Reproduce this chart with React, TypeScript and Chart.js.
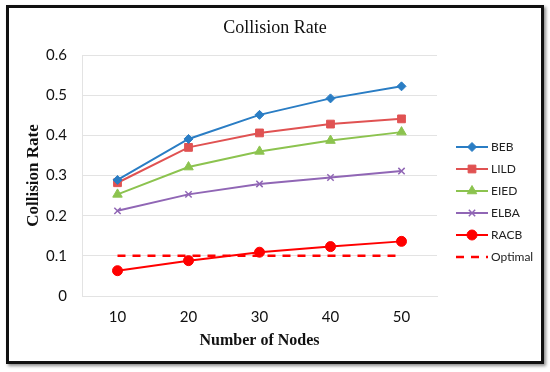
import React, { useEffect, useRef } from 'react';
import { Chart, registerables } from 'chart.js';
import { drawPoint } from 'chart.js/helpers';

Chart.register(...registerables);

const categories = ['10', '20', '30', '40', '50'];
const beb = [0.289, 0.391, 0.451, 0.492, 0.522];
const lild = [0.282, 0.37, 0.406, 0.428, 0.441];
const eied = [0.253, 0.321, 0.36, 0.387, 0.408];
const elba = [0.212, 0.253, 0.279, 0.295, 0.311];
const racb = [0.063, 0.088, 0.109, 0.123, 0.136];
const optimal = [0.1, 0.1, 0.1, 0.1, 0.1];
const seriesNames = ['BEB', 'LILD', 'EIED', 'ELBA', 'RACB', 'Optimal'];
const yMin = 0;
const yMax = 0.6;
const yStep = 0.1;

const TICK_FONT = 'Lato, "Open Sans", sans-serif';
const SERIF = '"Liberation Serif", "Times New Roman", serif';

const sideLegend = {
  id: 'sideLegend',
  afterDraw(chart: any) {
    const ctx = chart.ctx;
    const area = chart.chartArea;
    const x0 = area.right + 19;
    const x1 = x0 + 32;
    const yStart = area.top + 92;
    const gap = 22;
    chart.data.datasets.forEach((ds: any, i: number) => {
      const y = yStart + i * gap;
      ctx.save();
      ctx.strokeStyle = ds.borderColor;
      ctx.lineWidth = ds.borderWidth;
      if (ds.borderDash && ds.borderDash.length) {
        ctx.setLineDash(ds.borderDash);
      }
      ctx.beginPath();
      ctx.moveTo(x0, y);
      ctx.lineTo(x1, y);
      ctx.stroke();
      ctx.setLineDash([]);
      if (ds.pointRadius > 0) {
        ctx.fillStyle = ds.pointBackgroundColor;
        ctx.strokeStyle = ds.pointBorderColor;
        ctx.lineWidth = ds.pointBorderWidth;
        drawPoint(ctx, { pointStyle: ds.pointStyle, radius: ds.pointRadius, rotation: 0, borderWidth: ds.pointBorderWidth }, (x0 + x1) / 2, y);
      }
      ctx.fillStyle = '#222';
      ctx.font = '12px ' + TICK_FONT;
      ctx.textAlign = 'left';
      ctx.textBaseline = 'middle';
      ctx.fillText(ds.label, x1 + 3, y);
      ctx.restore();
    });
  },
};

export default function App() {
  const canvasRef = useRef<HTMLCanvasElement | null>(null);

  useEffect(() => {
    const canvas = canvasRef.current;
    if (!canvas) return;
    const mk = (label: string, data: number[], color: string, style: any, radius: number, extra: any = {}) => ({
      label,
      data,
      borderColor: color,
      backgroundColor: color,
      borderWidth: 2,
      pointStyle: style,
      pointRadius: radius,
      pointHoverRadius: radius,
      pointBackgroundColor: color,
      pointBorderColor: color,
      pointBorderWidth: 1,
      tension: 0,
      fill: false,
      yAxisID: 'y',
      ...extra,
    });
    const chart = new Chart(canvas, {
      type: 'line',
      data: {
        labels: categories,
        datasets: [
          mk(seriesNames[0], beb, '#2a7dc4', 'rectRot', 4.5),
          mk(seriesNames[1], lild, '#e05252', 'rect', 5.5),
          mk(seriesNames[2], eied, '#8cc34f', 'triangle', 5.5),
          mk(seriesNames[3], elba, '#9066b5', 'crossRot', 4.5, { pointBorderWidth: 1.5 }),
          mk(seriesNames[4], racb, '#ff0000', 'circle', 5),
          mk(seriesNames[5], optimal, '#ff0000', 'circle', 0, { borderWidth: 2.5, borderDash: [8, 7] }),
        ],
      },
      options: {
        responsive: false,
        animation: false,
        events: [],
        layout: { padding: { left: 0, right: 0, top: 0, bottom: 0 } },
        plugins: {
          legend: { display: false },
          tooltip: { enabled: false },
          title: {
            display: true,
            text: 'Collision Rate',
            color: '#111',
            font: { family: SERIF, size: 18, weight: 'normal', lineHeight: 1.2 },
            padding: { top: 17, bottom: 16.4 },
          },
        },
        scales: {
          x: {
            type: 'category',
            offset: true,
            grid: { display: false, drawTicks: false },
            border: { display: true, color: '#e3e3e3', width: 1 },
            ticks: { color: '#111', font: { family: TICK_FONT, size: 15 }, padding: 12, maxRotation: 0 },
            title: {
              display: true,
              text: 'Number of Nodes',
              color: '#111',
              font: { family: SERIF, size: 16, weight: 'bold', lineHeight: 1.2 },
              padding: { top: 0, bottom: 22 },
            },
            afterFit: (scale: any) => {
              scale.height = 76;
            },
          },
          y: {
            position: 'left',
            min: yMin,
            max: yMax,
            grid: { color: '#e3e3e3', lineWidth: 1, drawTicks: false },
            border: { display: true, color: '#e3e3e3', width: 1 },
            ticks: {
              stepSize: yStep,
              color: '#111',
              font: { family: TICK_FONT, size: 15 },
              padding: 15,
            },
            title: {
              display: true,
              text: 'Collision Rate',
              color: '#111',
              font: { family: SERIF, size: 17, weight: 'bold', lineHeight: 1.2 },
              padding: { top: 23, bottom: 0 },
            },
            afterFit: (scale: any) => {
              scale.width = 82;
            },
          },
          yRight: {
            position: 'right',
            display: true,
            min: yMin,
            max: yMax,
            grid: { display: false, drawTicks: false },
            border: { display: false },
            ticks: { display: false },
            afterFit: (scale: any) => {
              scale.width = 113;
            },
          },
        },
      },
      plugins: [sideLegend],
    });
    return () => chart.destroy();
  }, []);

  return (
    <div style={{ position: 'fixed', left: 0, top: 0, width: 550, height: 372, background: '#fff' }}>
      <div
        style={{
          position: 'absolute',
          left: 6,
          top: 5,
          width: 538,
          height: 359,
          boxSizing: 'border-box',
          border: '3px solid #111',
          boxShadow: '2px 2px 3px rgba(0,0,0,0.45)',
        }}
      />
      <canvas ref={canvasRef} width={550} height={372} style={{ position: 'absolute', left: 0, top: 0, width: 550, height: 372 }} />
    </div>
  );
}
